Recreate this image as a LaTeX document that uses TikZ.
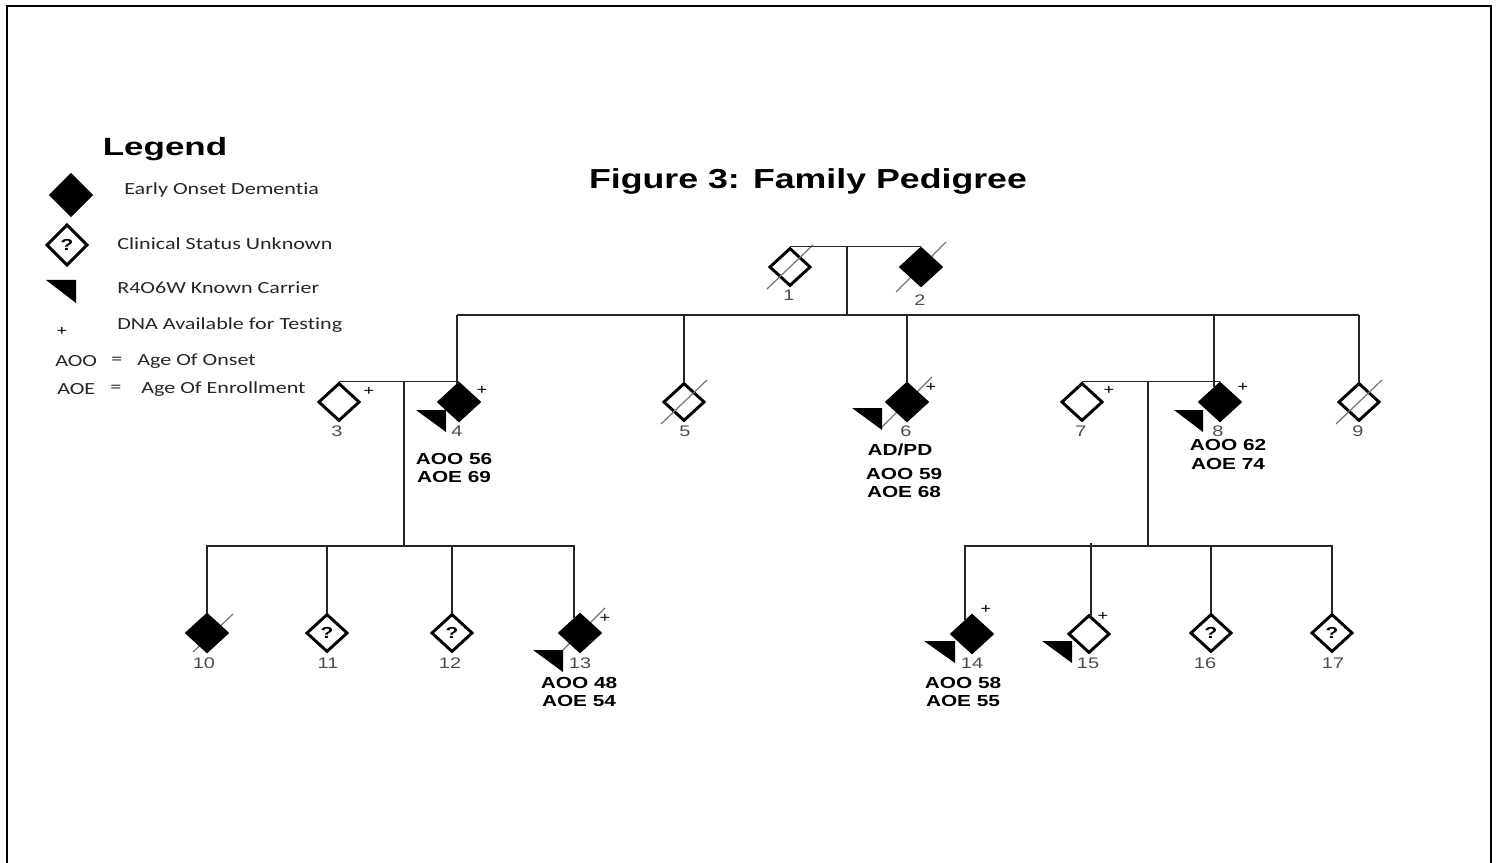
\documentclass[tikz,border=0pt]{standalone}
\usepackage{fontspec}
\setmainfont{Liberation Sans}
\newfontfamily\labfont[FakeStretch=1.3]{Liberation Sans}
\newfontfamily\headfont[FakeStretch=1.4]{Liberation Sans}
\newfontfamily\legfont[FakeStretch=1.3,Ligatures={NoCommon}]{Carlito}
\usetikzlibrary{shapes.geometric,calc,backgrounds}
\begin{document}
\begin{tikzpicture}[x=0.75pt,y=-0.75pt,
 person/.style={diamond, draw, line width=2.2pt, minimum width=31pt, minimum height=28.5pt, inner sep=0pt},
 affected/.style={person, fill=black},
 unknown/.style={person, font=\labfont\bfseries\fontsize{12}{12}\selectfont},
 conn/.style={line width=1.1pt, draw=black!85},
 deadslash/.style={line width=0.9pt, draw=black!55},
 carrier/.style={fill=black},
 idlab/.style={font=\labfont\fontsize{11.5}{12}\selectfont, text=black!70, inner sep=0pt},
 plus/.style={font=\labfont\fontsize{10.5}{10.5}\selectfont, inner sep=0pt},
 agelab/.style={font=\labfont\bfseries\fontsize{12}{12}\selectfont, inner sep=0pt},
 legtext/.style={font=\legfont\fontsize{12.75}{13}\selectfont, anchor=west, inner sep=0pt, text=black!85}
]
\useasboundingbox (0,0) rectangle (1497,863);
% frame
\draw[line width=2pt] (7,880) -- (7,6) -- (1491,6) -- (1491,880);

% title
\node[font=\labfont\bfseries\fontsize{20.6}{21}\selectfont] (title) at (808,181) {Figure 3: Family Pedigree};

% legend
\node[font=\headfont\bfseries\fontsize{18.75}{19}\selectfont] (legh) at (165,149) {Legend};
\node[affected, minimum width=31pt, minimum height=31pt] (lg1) at (71,195) {};
\node[legtext] (lt1) at (124,190) {Early Onset Dementia};
\node[unknown, minimum width=31pt, minimum height=31pt] (lg2) at (67,245) {?};
\node[legtext] (lt2) at (117,244) {Clinical Status Unknown};
\fill[carrier] (46,280) -- (76,280) -- (76,303) -- cycle;
\node[legtext] (lt3) at (117,288) {R4O6W Known Carrier};
\node[plus] (lp) at (62,331) {+};
\node[legtext] (lt4) at (117,325) {DNA Available for Testing};
\node[legtext] (lt5a) at (55,361) {AOO};
\node[legtext, anchor=center] (lt5b) at (117,361) {=};
\node[legtext] (lt5c) at (137,361) {Age Of Onset};
\node[legtext] (lt6a) at (57,389) {AOE};
\node[legtext, anchor=center] (lt6b) at (116,389) {=};
\node[legtext] (lt6c) at (141,389) {Age Of Enrollment};

% persons
\node[person] (n1) at (790,267) {};
\node[affected] (n2) at (921,267) {};
\node[person] (n3) at (339,402) {};
\node[affected] (n4) at (459,402) {};
\node[person] (n5) at (684,402) {};
\node[affected] (n6) at (907,402) {};
\node[person] (n7) at (1082,402) {};
\node[affected] (n8) at (1220,402) {};
\node[person] (n9) at (1359,402) {};
\node[affected] (n10) at (207,633) {};
\node[unknown] (n11) at (327,633) {?};
\node[unknown] (n12) at (452,633) {?};
\node[affected] (n13) at (580,633) {};
\node[affected] (n14) at (972,634) {};
\node[person] (n15) at (1089,634) {};
\node[unknown] (n16) at (1211,633) {?};
\node[unknown] (n17) at (1332,633) {?};

% deceased slashes
\begin{scope}[on background layer]
\foreach \n in {n2,n6,n13}
  \draw[deadslash] ($(\n)+(-25,25)$) -- ($(\n)+(25,-25)$);
\draw[deadslash] ($(n10)+(-14,19)$) -- ($(n10)+(26,-19)$);
\end{scope}
\foreach \n in {n1,n5,n9}
  \draw[deadslash] ($(\n)+(-23,22)$) -- ($(\n)+(23,-22)$);

% drop end points on the persons
\coordinate (e4) at ($(n4.north)+(-2,2)$);
\coordinate (e8) at ($(n8.north)+(-6,5)$);
\coordinate (e13) at ($(n13.north)+(-6,5)$);
\coordinate (e14) at ($(n14.north)+(-7,6)$);
\coordinate (e15) at ($(n15.north)+(2,2)$);

% connectors generation I -> II
\coordinate (c12) at (847,247);
\coordinate (s12) at (847,315);
\draw[conn] (n1.north) -- (n2.north);
\draw[conn] (c12) -- (s12);
\draw[conn] (e4 |- s12) -- (n9.north |- s12);
\draw[conn] (e4) -- (e4 |- s12);
\draw[conn] (n5.north) -- (n5.north |- s12);
\draw[conn] (n6.north) -- (n6.north |- s12);
\draw[conn] (e8) -- (e8 |- s12);
\draw[conn] (n9.north) -- (n9.north |- s12);

% family 3-4
\coordinate (s34) at (404,546);
\draw[conn] (n3.north) -- (n4.north);
\draw[conn] (s34 |- n3.north) -- (s34);
\draw[conn] (n10.north) |- (e13 |- s34) -- (e13);
\draw[conn] (n11.north) -- (n11.north |- s34);
\draw[conn] (n12.north) -- (n12.north |- s34);

% family 7-8
\coordinate (s78) at (1148,546);
\draw[conn] (n7.north) -- (n8.north);
\draw[conn] (s78 |- n7.north) -- (s78);
\draw[conn] (e14) |- (n17.north |- s78) -- (n17.north);
\draw[conn] (e15) -- ($(e15 |- s78)+(0,-3)$);
\draw[conn] (n16.north) -- (n16.north |- s78);

% carriers
\fill[carrier] (416,410) -- (446,410) -- (446,432) -- cycle;
\fill[carrier] (852,408) -- (882,408) -- (882,430) -- cycle;
\fill[carrier] (1174,410) -- (1203,410) -- (1203,432) -- cycle;
\fill[carrier] (533,650) -- (563,650) -- (563,672) -- cycle;
\fill[carrier] (924,641) -- (955,641) -- (955,663) -- cycle;
\fill[carrier] (1042,641) -- (1072,641) -- (1072,663) -- cycle;

% DNA available
\node[plus] (p3) at (369,391) {+};
\node[plus] (p4) at (482,390) {+};
\node[plus] (p6) at (931,387) {+};
\node[plus] (p7) at (1109,390) {+};
\node[plus] (p8) at (1243,387) {+};
\node[plus] (p13) at (605,618) {+};
\node[plus] (p14) at (986,609) {+};
\node[plus] (p15) at (1103,616) {+};

% id labels
\node[idlab] (l1) at (789,295) {1};
\node[idlab] (l2) at (920,300) {2};
\node[idlab] (l3) at (337,431) {3};
\node[idlab] (l4) at (457,431) {4};
\node[idlab] (l5) at (685,431) {5};
\node[idlab] (l6) at (906,431) {6};
\node[idlab] (l7) at (1081,431) {7};
\node[idlab] (l8) at (1218,431) {8};
\node[idlab] (l9) at (1358,431) {9};
\node[idlab] (l10) at (204,663) {10};
\node[idlab] (l11) at (328,663) {11};
\node[idlab] (l12) at (450,663) {12};
\node[idlab] (l13) at (580,663) {13};
\node[idlab] (l14) at (972,663) {14};
\node[idlab] (l15) at (1088,663) {15};
\node[idlab] (l16) at (1205,663) {16};
\node[idlab] (l17) at (1333,663) {17};

% ages
\node[agelab] (a4o) at (454,459) {AOO 56};
\node[agelab] (a4e) at (454,477) {AOE 69};
\node[agelab] (d6) at (900,450) {AD/PD};
\node[agelab] (a6o) at (904,474) {AOO 59};
\node[agelab] (a6e) at (904,492) {AOE 68};
\node[agelab] (a8o) at (1228,445) {AOO 62};
\node[agelab] (a8e) at (1228,464) {AOE 74};
\node[agelab] (a13o) at (579,683) {AOO 48};
\node[agelab] (a13e) at (579,701) {AOE 54};
\node[agelab] (a14o) at (963,683) {AOO 58};
\node[agelab] (a14e) at (963,701) {AOE 55};
\end{tikzpicture}
\end{document}
